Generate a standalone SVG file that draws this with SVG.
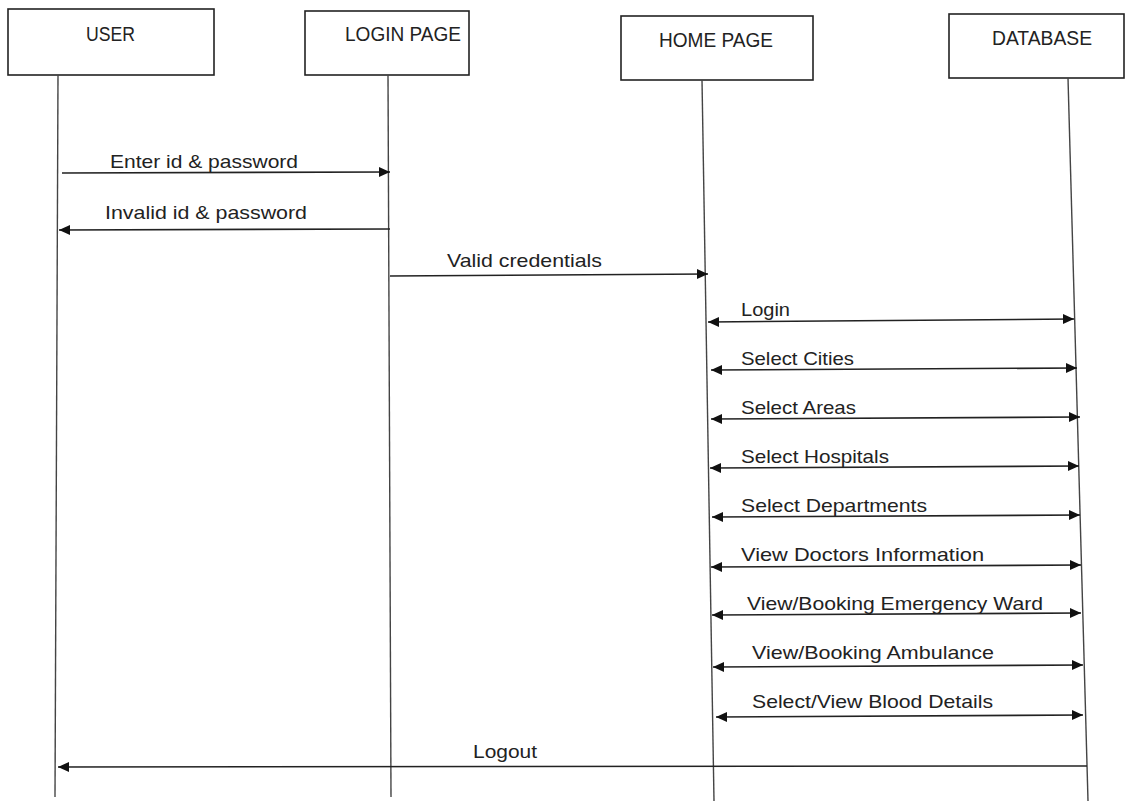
<svg xmlns="http://www.w3.org/2000/svg" width="1130" height="801" viewBox="0 0 1130 801">
<style>
.box{fill:#fff;stroke:#222;stroke-width:1.6}
.life{stroke:#444;stroke-width:1.4;fill:none}
.msg{stroke:#222;stroke-width:1.6;fill:none}
.one{marker-end:url(#ah)}
.two{marker-start:url(#ah);marker-end:url(#ah)}
.lbl{font-family:"Liberation Sans",Arial,sans-serif;font-size:20px;fill:#222}
.txt{font-family:"Liberation Sans",Arial,sans-serif;font-size:18.5px;fill:#222}
</style>
<defs>
<marker id="ah" markerUnits="userSpaceOnUse" markerWidth="12" markerHeight="12" refX="11" refY="6" orient="auto-start-reverse">
<path d="M0,1 L11,6 L0,11 z" fill="#111"/>
</marker>
</defs>
<rect width="1130" height="801" fill="#fff"/>
<g id="user">
<rect class="box" x="8" y="9" width="206" height="66"/>
<text class="lbl" x="86" y="41" textLength="49" lengthAdjust="spacingAndGlyphs">USER</text>
</g>
<g id="login-page">
<rect class="box" x="305" y="11" width="164" height="64"/>
<text class="lbl" x="345" y="41" textLength="116" lengthAdjust="spacingAndGlyphs">LOGIN PAGE</text>
</g>
<g id="home-page">
<rect class="box" x="621" y="16" width="192" height="64"/>
<text class="lbl" x="659" y="47" textLength="114" lengthAdjust="spacingAndGlyphs">HOME PAGE</text>
</g>
<g id="database">
<rect class="box" x="949" y="14" width="175" height="64"/>
<text class="lbl" x="992" y="45" textLength="100" lengthAdjust="spacingAndGlyphs">DATABASE</text>
</g>
<g id="lifelines">
<line class="life" x1="58" y1="75" x2="55" y2="797"/>
<line class="life" x1="388" y1="75" x2="391" y2="797"/>
<line class="life" x1="702" y1="80" x2="714" y2="801"/>
<line class="life" x1="1068" y1="78" x2="1088" y2="801"/>
</g>
<g id="connectors">
<line class="msg one" x1="62" y1="173" x2="390" y2="172"/>
<line class="msg one" x1="390" y1="229" x2="59" y2="230"/>
<line class="msg one" x1="390" y1="276" x2="708" y2="274"/>
<line class="msg two" x1="708" y1="322" x2="1074" y2="319"/>
<line class="msg two" x1="711" y1="370" x2="1077" y2="368"/>
<line class="msg two" x1="711" y1="419" x2="1080" y2="417"/>
<line class="msg two" x1="710" y1="468" x2="1079" y2="466"/>
<line class="msg two" x1="712" y1="517" x2="1080" y2="515"/>
<line class="msg two" x1="711" y1="567" x2="1081" y2="565"/>
<line class="msg two" x1="712" y1="615" x2="1081" y2="613"/>
<line class="msg two" x1="713" y1="667" x2="1083" y2="665"/>
<line class="msg two" x1="716" y1="717" x2="1083" y2="715"/>
<line class="msg one" x1="1087" y1="766" x2="58" y2="767"/>
</g>
<g id="labels">
<text class="txt" x="110" y="168" textLength="188" lengthAdjust="spacingAndGlyphs">Enter id &amp; password</text>
<text class="txt" x="105" y="219" textLength="202" lengthAdjust="spacingAndGlyphs">Invalid id &amp; password</text>
<text class="txt" x="447" y="267" textLength="155" lengthAdjust="spacingAndGlyphs">Valid credentials</text>
<text class="txt" x="741" y="316" textLength="49" lengthAdjust="spacingAndGlyphs">Login</text>
<text class="txt" x="741" y="365" textLength="113" lengthAdjust="spacingAndGlyphs">Select Cities</text>
<text class="txt" x="741" y="414" textLength="115" lengthAdjust="spacingAndGlyphs">Select Areas</text>
<text class="txt" x="741" y="463" textLength="148" lengthAdjust="spacingAndGlyphs">Select Hospitals</text>
<text class="txt" x="741" y="512" textLength="186" lengthAdjust="spacingAndGlyphs">Select Departments</text>
<text class="txt" x="741" y="561" textLength="243" lengthAdjust="spacingAndGlyphs">View Doctors Information</text>
<text class="txt" x="747" y="610" textLength="296" lengthAdjust="spacingAndGlyphs">View/Booking Emergency Ward</text>
<text class="txt" x="752" y="659" textLength="242" lengthAdjust="spacingAndGlyphs">View/Booking Ambulance</text>
<text class="txt" x="752" y="708" textLength="241" lengthAdjust="spacingAndGlyphs">Select/View Blood Details</text>
<text class="txt" x="473" y="758" textLength="64" lengthAdjust="spacingAndGlyphs">Logout</text>
</g>
</svg>
